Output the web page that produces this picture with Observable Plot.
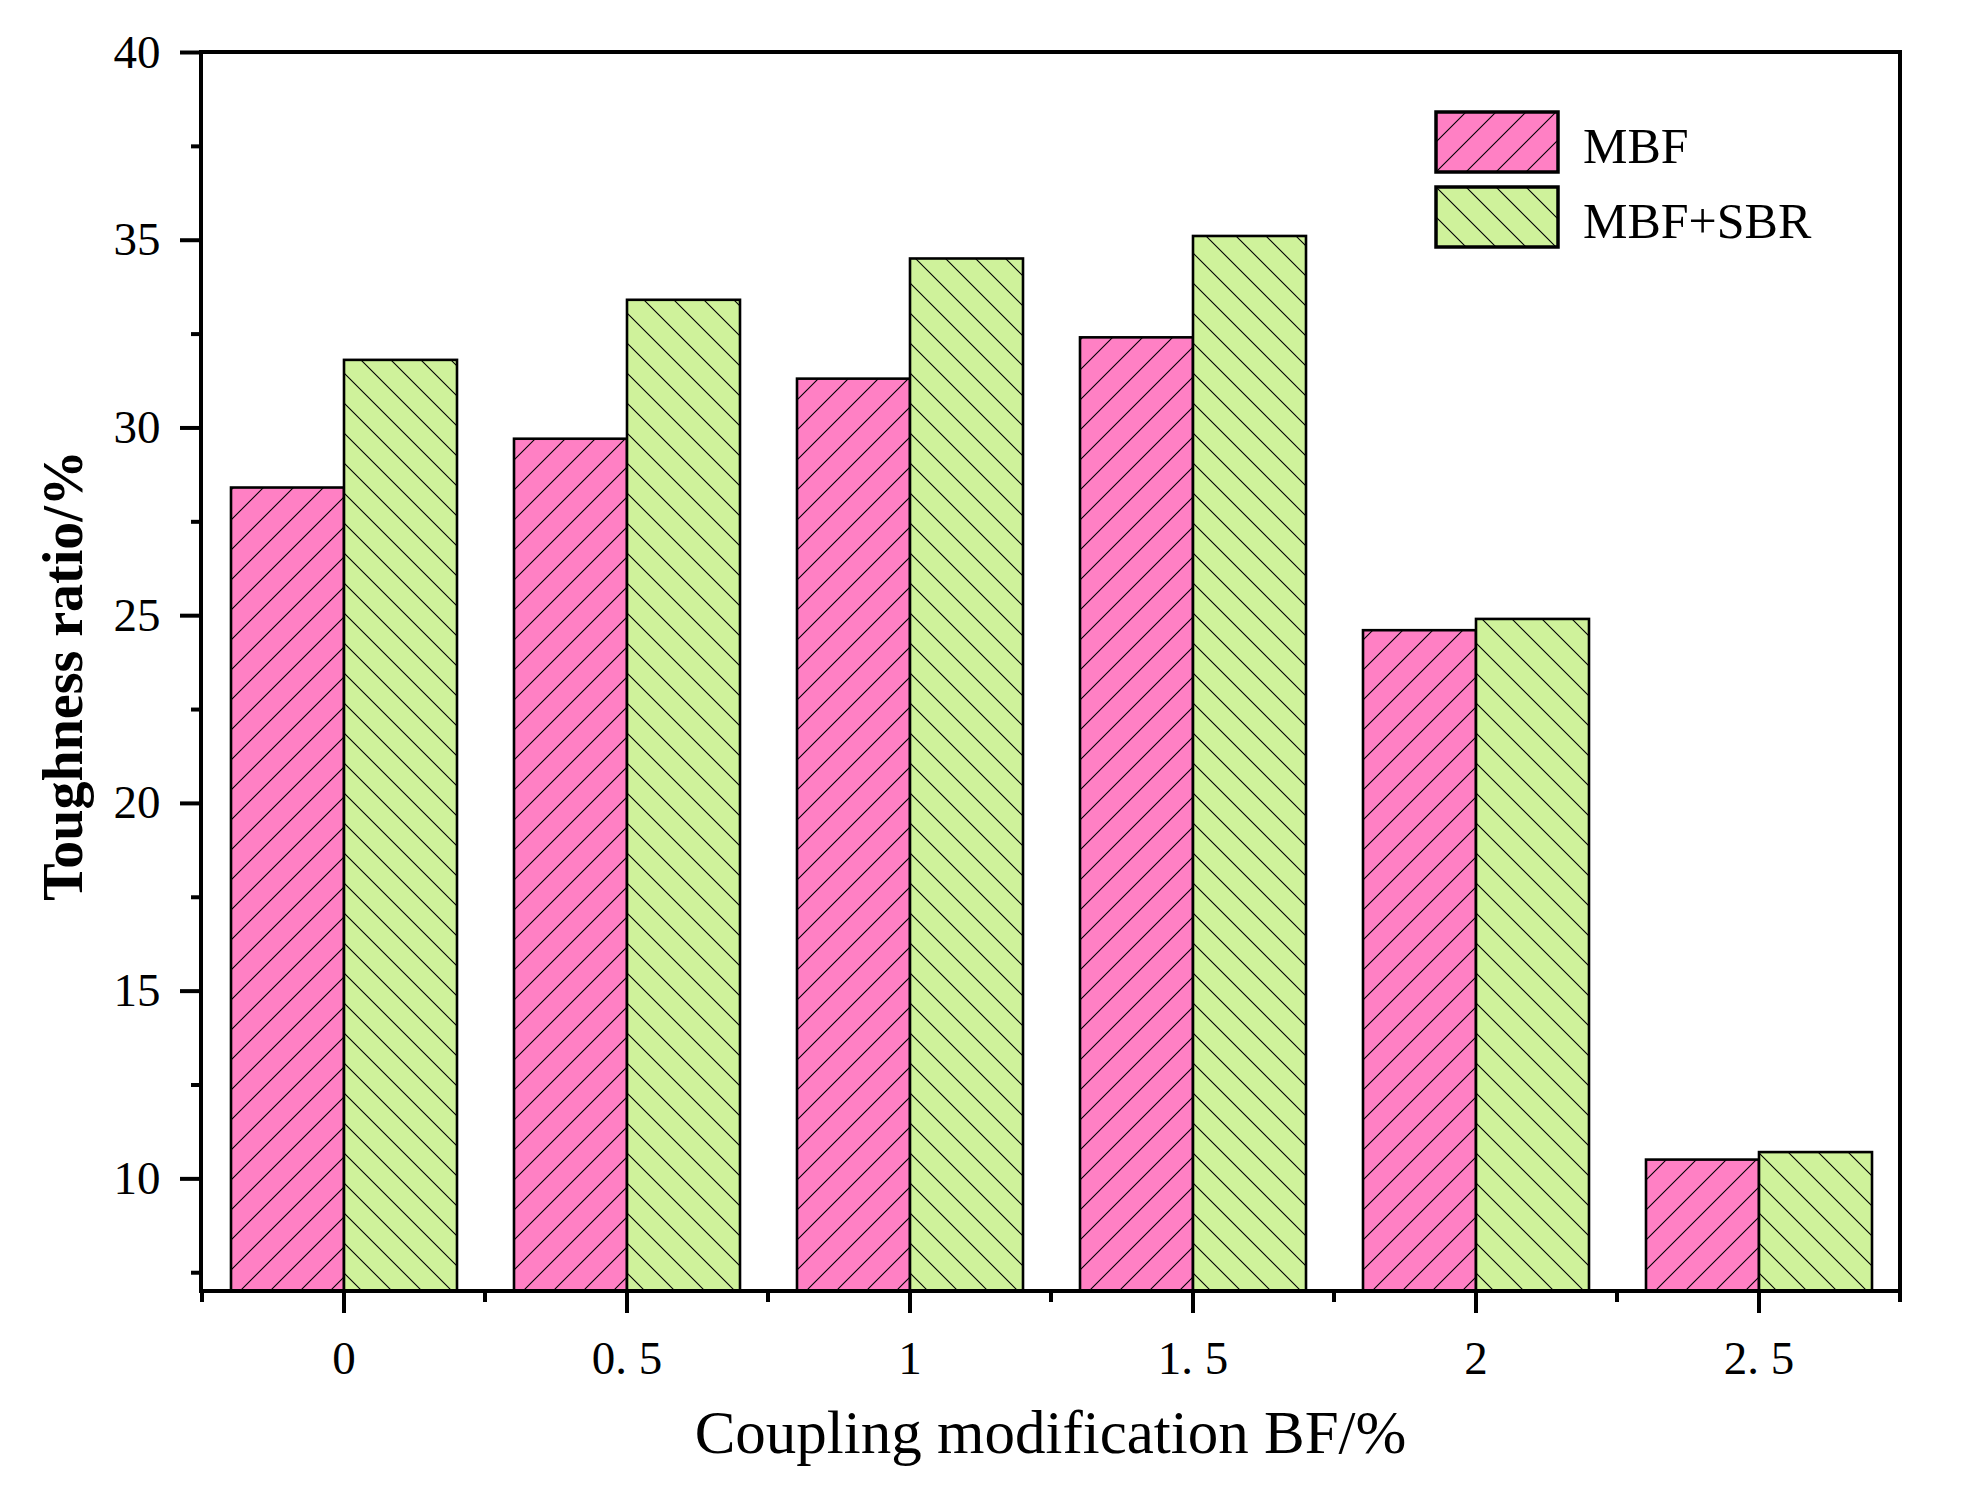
<!DOCTYPE html>
<html>
<head>
<meta charset="utf-8">
<script src="https://cdn.jsdelivr.net/npm/d3@7"></script>
<script src="https://cdn.jsdelivr.net/npm/@observablehq/plot@0.6"></script>
<style>
  html, body { margin: 0; padding: 0; background: #fff; }
  #grafica { width: 1966px; height: 1500px; }
</style>
</head>
<body>
<div id="grafica"></div>
<script>
// Datos leídos da figura: ratio de tenacidade (%) segundo a dose de BF (%).
const DOSIS_BF = ["0", "0.5", "1", "1.5", "2", "2.5"];
const SERIES = ["MBF", "MBF+SBR"];
const TENACIDAD_MBF = [28.4, 29.7, 31.3, 32.4, 24.6, 10.5];
const TENACIDAD_MBF_SBR = [31.8, 33.4, 34.5, 35.1, 24.9, 10.7];
const Y_DOMINIO = [7, 40];
const Y_TICKS = [10, 15, 20, 25, 30, 35, 40];
const Y_TICKS_MENORES = [7.5, 12.5, 17.5, 22.5, 27.5, 32.5, 37.5];

const COLORES = { "MBF": "#ff80c4", "MBF+SBR": "#cff29b" };
const SENTIDO = { "MBF": "asc", "MBF+SBR": "desc" };
const FUENTE = "'Liberation Serif', 'Times New Roman', serif";

(function () {
  const ANCHO = 1966;
  const ALTO = 1500;
  const M = { top: 52, right: 66, bottom: 209, left: 201 };

  const filas = DOSIS_BF.flatMap((bf, i) => [
    { bf, serie: SERIES[0], valor: TENACIDAD_MBF[i] },
    { bf, serie: SERIES[1], valor: TENACIDAD_MBF_SBR[i] },
  ]);

  const plot = Plot.plot({
    width: ANCHO,
    height: ALTO,
    marginTop: M.top,
    marginRight: M.right,
    marginBottom: M.bottom,
    marginLeft: M.left,
    style: { background: "#fff", color: "#000", fontFamily: FUENTE, overflow: "visible" },
    fx: { domain: DOSIS_BF, padding: 0, axis: null, label: null },
    x: { domain: SERIES, paddingInner: 0, paddingOuter: 0.25, axis: null },
    y: { domain: Y_DOMINIO, axis: null, label: null },
    marks: [
      ...SERIES.map((s, i) =>
        Plot.barY(filas.filter((d) => d.serie === s), {
          fx: "bf",
          x: "serie",
          y: "valor",
          fill: `url(#rayado-${i})`,
          stroke: "#000",
          strokeWidth: 2.6,
          clip: true,
        })
      ),
      Plot.axisY({ ticks: Y_TICKS, tickSize: 22, tickPadding: 20, strokeWidth: 4,
                   fontSize: 47, label: null, tickFormat: (d) => `${d}` }),
      Plot.axisY({ ticks: Y_TICKS_MENORES, tickSize: 11, strokeWidth: 4,
                   label: null, tickFormat: () => "" }),
      Plot.axisFx({ anchor: "bottom", tickSize: 22, tickPadding: 27, strokeWidth: 4,
                    fontSize: 47, label: null, tickFormat: (d) => d.replace(".", ". ") }),
    ],
  });

  const svg = d3.select(plot);

  // patróns de rayado (tipo Origin) para barras e lenda
  const defs = svg.append("defs");
  SERIES.forEach((s, i) => {
    const p = defs.append("pattern")
      .attr("id", `rayado-${i}`)
      .attr("patternUnits", "userSpaceOnUse")
      .attr("width", 30)
      .attr("height", 30);
    p.append("rect").attr("width", 30).attr("height", 30).attr("fill", COLORES[s]);
    p.append("path")
      .attr("d", SENTIDO[s] === "asc"
        ? "M-7.5,7.5L7.5,-7.5M0,30L30,0M22.5,37.5L37.5,22.5"
        : "M-7.5,22.5L7.5,37.5M0,0L30,30M22.5,-7.5L37.5,7.5")
      .attr("stroke", "#000")
      .attr("stroke-width", 1.1)
      .attr("fill", "none");
  });

  const x0 = M.left, x1 = ANCHO - M.right, y0 = M.top, y1 = ALTO - M.bottom;

  // caixa completa
  svg.append("rect")
    .attr("x", x0).attr("y", y0)
    .attr("width", x1 - x0).attr("height", y1 - y0)
    .attr("fill", "none").attr("stroke", "#000").attr("stroke-width", 4);

  // ticks menores do eixo x nos bordes de cada grupo
  const fx = plot.scale("fx");
  const bordes = DOSIS_BF.map((d) => fx.apply(d)).concat([fx.apply(DOSIS_BF[DOSIS_BF.length - 1]) + fx.bandwidth]);
  svg.append("g").selectAll("line").data(bordes).join("line")
    .attr("x1", (d) => d).attr("x2", (d) => d)
    .attr("y1", y1).attr("y2", y1 + 11)
    .attr("stroke", "#000").attr("stroke-width", 4);

  // títulos dos eixos
  svg.append("text")
    .attr("x", (x0 + x1) / 2).attr("y", 1453)
    .attr("text-anchor", "middle")
    .attr("font-family", FUENTE).attr("font-size", 61)
    .text("Coupling modification BF/%");

  svg.append("text")
    .attr("transform", `translate(82,${(y0 + y1) / 2 + 4}) rotate(-90)`)
    .attr("text-anchor", "middle")
    .attr("font-family", FUENTE).attr("font-size", 56).attr("font-weight", "bold")
    .text("Toughness ratio/%");

  // lenda dentro do marco
  const lenda = svg.append("g").attr("transform", "translate(1436,112)");
  SERIES.forEach((s, i) => {
    const g = lenda.append("g").attr("transform", `translate(0,${i * 75})`);
    g.append("rect")
      .attr("width", 122).attr("height", 60)
      .attr("fill", `url(#rayado-${i})`)
      .attr("stroke", "#000").attr("stroke-width", 3.5);
    g.append("text")
      .attr("x", 147).attr("y", 51)
      .attr("text-anchor", "start")
      .attr("font-family", FUENTE).attr("font-size", 50)
      .text(s);
  });

  document.getElementById("grafica").appendChild(plot);
})();
</script>
</body>
</html>
